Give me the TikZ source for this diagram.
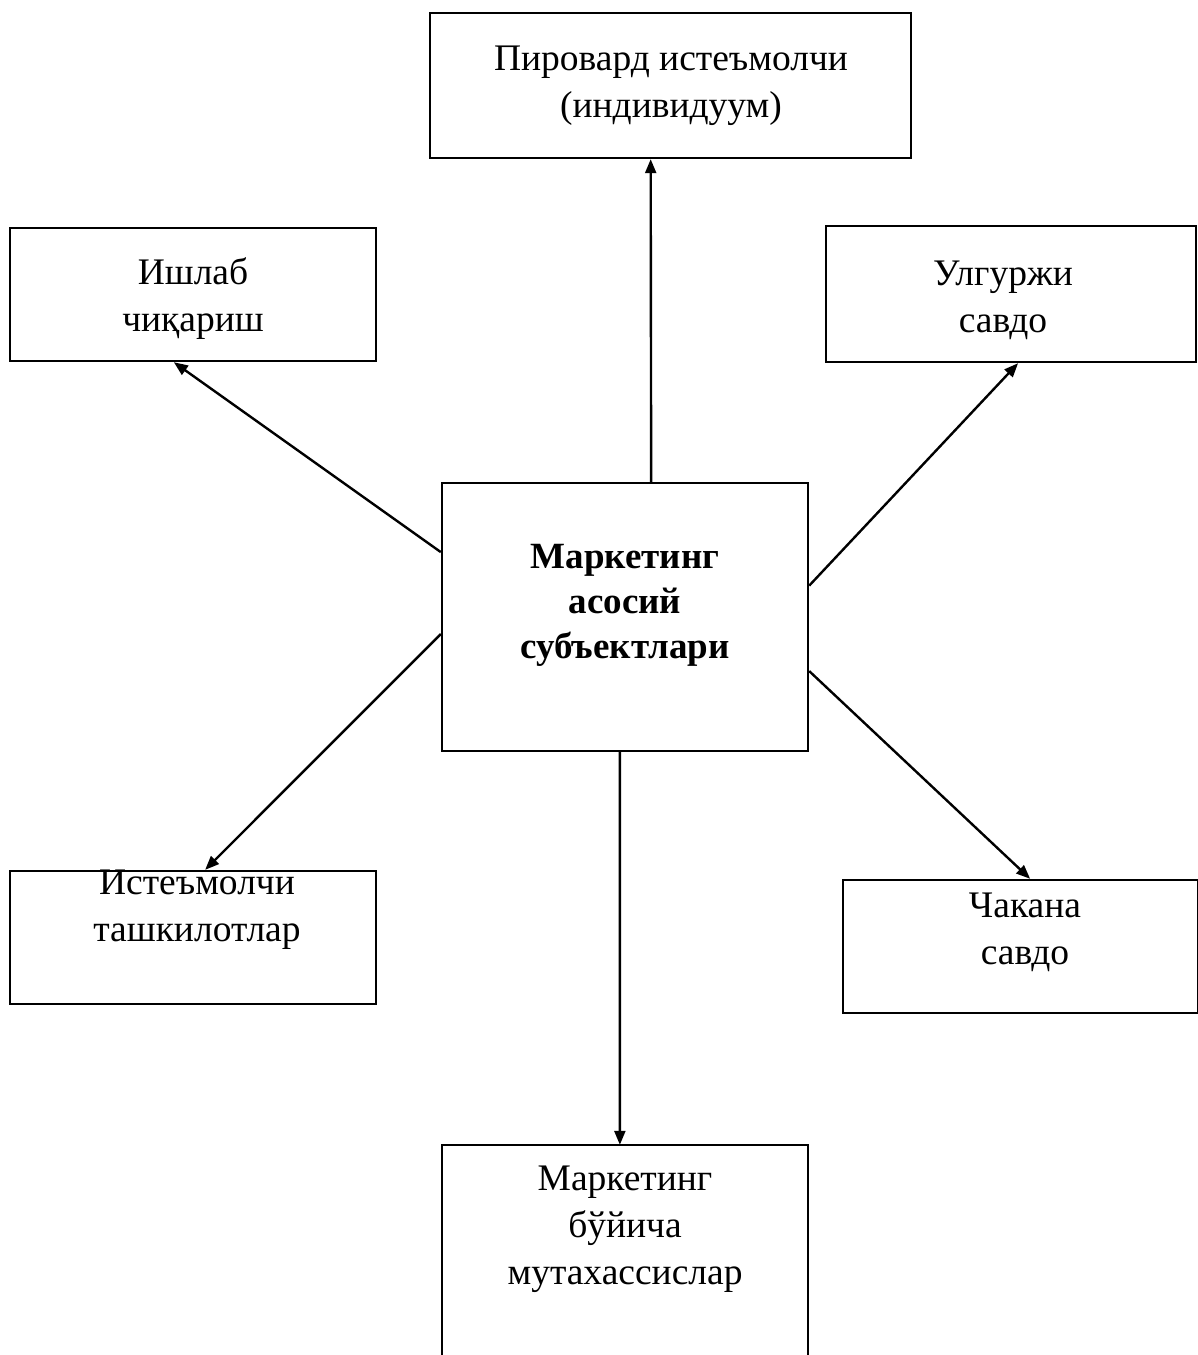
\documentclass[tikz,border=0pt]{standalone}
\usepackage{fontspec}
\setmainfont{Liberation Serif}
\usetikzlibrary{arrows.meta,calc}
\tikzset{
  box/.style={draw, line width=2.4pt, inner sep=0pt, minimum width=#1},
  txt/.style={align=center, inner sep=0pt, font=\fontsize{37.5}{47}\selectfont},
  btxt/.style={align=center, inner sep=0pt, font=\fontsize{37}{45}\selectfont\bfseries},
  link/.style={line width=2.4pt, -{Triangle[length=14pt,width=11pt]}}
}
\begin{document}
\begin{tikzpicture}[x=1pt,y=-1pt]
\useasboundingbox (0,0) rectangle (1198,1355);
% boxes
\node[box=481pt, minimum height=145pt] (top) at (670.5,85.5) {};
\node[box=366pt, minimum height=133pt] (lu) at (193,294.5) {};
\node[box=370pt, minimum height=136pt] (ru) at (1011,294) {};
\node[box=366pt, minimum height=268pt] (c) at (625,617) {};
\node[box=366pt, minimum height=133pt] (ll) at (193,937.5) {};
\node[box=355pt, minimum height=133pt] (rl) at (1020.5,946.5) {};
\node[minimum width=366pt, minimum height=220pt, inner sep=0pt] (b) at (625,1255) {};
\draw[line width=2.4pt] (b.south west) -- (b.north west) -- (b.north east) -- (b.south east);
% labels
\node[txt] (toptxt) at (671,86) {Пировард истеъмолчи\\(индивидуум)};
\node[txt] (lutxt) at (193,299) {Ишлаб\\чиқариш};
\node[txt] (rutxt) at (1003,300) {Улгуржи\\савдо};
\node[btxt] (ctxt) at (625,605) {Маркетинг\\асосий\\субъектлари};
\node[txt] (lltxt) at (197,910) {Истеъмолчи\\ташкилотлар};
\node[txt] (rltxt) at (1025,932) {Чакана\\савдо};
\node[txt] (btxt) at (625,1229) {Маркетинг\\бўйича\\мутахассислар};
% connectors
\draw[link] ($(c.north west)!0.571!(c.north east)$) -- ($(top.south west)!0.459!(top.south east)$);
\draw[link] ($(c.north west)!0.26!(c.south west)$) -- ($(lu.south west)!0.448!(lu.south east)$);
\draw[link] ($(c.north east)!0.384!(c.south east)$) -- ($(ru.south west)!0.519!(ru.south east)$);
\draw[link] ($(c.north west)!0.563!(c.south west)$) -- ($(ll.north west)!0.533!(ll.north east)$);
\draw[link] ($(c.north east)!0.70!(c.south east)$) -- ($(rl.north west)!0.527!(rl.north east)$);
\draw[link] ($(c.south west)!0.486!(c.south east)$) -- ($(b.north west)!0.486!(b.north east)$);
\end{tikzpicture}
\end{document}
